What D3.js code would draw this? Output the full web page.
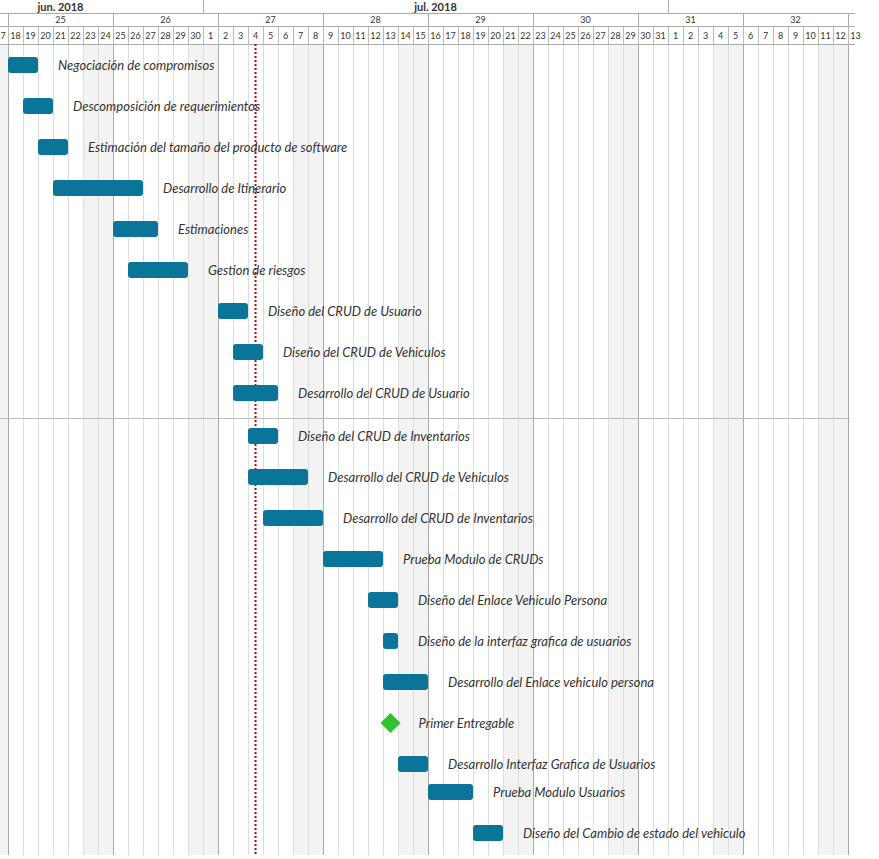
<!DOCTYPE html>
<html><head><meta charset="utf-8">
<script src="https://cdn.jsdelivr.net/npm/d3@7"></script>
<style>body{margin:0;background:#fff}svg{display:block;font-family:Lato,"Open Sans",sans-serif}</style>
</head><body>
<svg width="879" height="859"></svg>
<script>
// Task data
const taskNames = ["Negociación de compromisos","Descomposición de requerimientos","Estimación del tamaño del producto de software","Desarrollo de Itinerario","Estimaciones","Gestion de riesgos","Diseño del CRUD de Usuario","Diseño del CRUD de Vehiculos","Desarrollo del CRUD de Usuario","Diseño del CRUD de Inventarios","Desarrollo del CRUD de Vehiculos","Desarrollo del CRUD de Inventarios","Prueba Modulo de CRUDs","Diseño del Enlace Vehiculo Persona","Diseño de la interfaz grafica de usuarios","Desarrollo del Enlace vehiculo persona","Primer Entregable","Desarrollo Interfaz Grafica de Usuarios","Prueba Modulo Usuarios","Diseño del Cambio de estado del vehiculo"];
const taskStart = ["2018-06-18","2018-06-19","2018-06-20","2018-06-21","2018-06-25","2018-06-26","2018-07-02","2018-07-03","2018-07-03","2018-07-04","2018-07-04","2018-07-05","2018-07-09","2018-07-12","2018-07-13","2018-07-13","2018-07-13","2018-07-14","2018-07-16","2018-07-19"];
const taskDays = [2,2,2,6,3,4,2,2,3,2,4,4,4,2,1,3,0,2,3,2];
const today = "2018-07-04";
const months = [{label:"jun. 2018", x:"2018-06-21T12:00"},{label:"jul. 2018", x:"2018-07-16T12:00"}];

// layout (row centres)
const rowY = [65,106,147,188,229,270,311,352,393,436,477,518,559,600,641,682,723,764,792,833];

const svg = d3.select("svg");
const parse = d3.timeParse("%Y-%m-%d");
const x = d3.scaleTime()
  .domain([new Date(2018,5,18), new Date(2018,7,13)])
  .range([8, 8 + 56*15]);
const days = d3.timeDay.range(new Date(2018,5,17), new Date(2018,7,14));
const chartBottom = 855, hdr = 44;

// weekend shading
svg.append("g").selectAll("rect")
  .data(days.filter(d => d.getDay() === 0 || d.getDay() === 6))
  .join("rect")
  .attr("x", d => x(d)).attr("y", hdr).attr("width", 15).attr("height", chartBottom - hdr)
  .attr("fill", "#f3f3f3");

// day lines
svg.append("g").selectAll("line").data(days).join("line")
  .attr("x1", d => x(d) + .5).attr("x2", d => x(d) + .5)
  .attr("y1", 26).attr("y2", chartBottom)
  .attr("stroke", d => d.getDay() === 1 ? "#aaa" : "#ddd");
svg.append("g").selectAll("line").data(days).join("line")
  .attr("x1", d => x(d) + .5).attr("x2", d => x(d) + .5)
  .attr("y1", 26).attr("y2", hdr).attr("stroke", "#bbb");
const mondays = days.filter(d => d.getDay() === 1);
svg.append("g").selectAll("line").data(mondays).join("line")
  .attr("x1", d => x(d) + .5).attr("x2", d => x(d) + .5)
  .attr("y1", 13).attr("y2", 26).attr("stroke", "#aaa");
svg.append("g").selectAll("line").data([new Date(2018,6,1), new Date(2018,7,1)]).join("line")
  .attr("x1", d => x(d) + .5).attr("x2", d => x(d) + .5)
  .attr("y1", 0).attr("y2", 13).attr("stroke", "#aaa");
[13.5, 26.5, 44.5].forEach(y => svg.append("line").attr("x1", 0).attr("x2", 855)
  .attr("y1", y).attr("y2", y).attr("stroke", "#aaa"));
svg.append("line").attr("x1", 0).attr("x2", 850).attr("y1", 418.5).attr("y2", 418.5).attr("stroke", "#bbb");

// header labels
svg.append("g").selectAll("text").data(days).join("text")
  .attr("x", d => x(d) + 7.5).attr("y", 39).attr("text-anchor", "middle")
  .attr("font-size", 9).attr("fill", "#333").text(d => d.getDate());
svg.append("g").selectAll("text").data(mondays.filter(d => x(d) + 52 < 850)).join("text")
  .attr("x", d => x(d) + 52.5).attr("y", 23).attr("text-anchor", "middle")
  .attr("font-size", 9).attr("fill", "#333").text(d => d3.timeFormat("%V")(d));
svg.append("g").selectAll("text").data(months).join("text")
  .attr("x", d => x(new Date(d.x))).attr("y", 11).attr("text-anchor", "middle")
  .attr("font-size", 11).attr("font-weight", "bold").attr("fill", "#333").text(d => d.label);

// today line
svg.append("line").attr("x1", x(parse(today)) + 7.5).attr("x2", x(parse(today)) + 7.5)
  .attr("y1", hdr).attr("y2", chartBottom)
  .attr("stroke", "#c00").attr("stroke-width", 2).attr("stroke-dasharray", "2,2");

// tasks
const tasks = taskNames.map((n, i) => ({name: n, start: parse(taskStart[i]), days: taskDays[i], y: rowY[i]}));
const g = svg.append("g");
tasks.forEach(t => {
  const x0 = x(t.start);
  let xe;
  if (t.days === 0) {
    const cx = x0 + 7.5;
    g.append("path").attr("d", `M${cx},${t.y-10}L${cx+10},${t.y}L${cx},${t.y+10}L${cx-10},${t.y}Z`).attr("fill", "#33c033");
    xe = cx + 8;
  } else {
    xe = x(d3.timeDay.offset(t.start, t.days));
    g.append("rect").attr("x", x0).attr("y", t.y - 8).attr("width", xe - x0).attr("height", 16)
      .attr("rx", 3).attr("fill", "#0b7499");
  }
  g.append("text").attr("x", xe + 20).attr("y", t.y + 4.5).attr("font-size", 13)
    .attr("font-style", "italic").attr("fill", "#333").text(t.name);
});
</script>
</body></html>
